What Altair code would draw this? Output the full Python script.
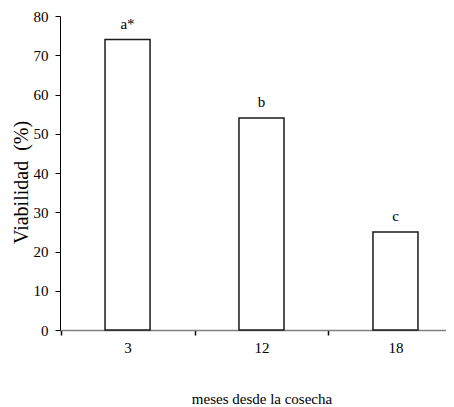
import altair as alt
import pandas as pd

months = ["3", "12", "18"]
viability = [74, 54, 25]
letters = ["a*", "b", "c"]

df = pd.DataFrame({"mes": months, "viab": viability, "letra": letters})

FONT = "Liberation Serif"

xscale = alt.Scale(type="band", domain=months, range=[0, 403],
                   paddingInner=0.664, paddingOuter=0.336)
yscale = alt.Scale(domain=[0, 80], nice=False)

xaxis = alt.Axis(title="meses desde la cosecha", labelAngle=0,
                 domainColor="#808080", domainWidth=1.5,
                 ticks=True, tickColor="black",
                 tickSize=5, tickWidth=1.5, tickOffset=-67, labelOffset=67,
                 labelPadding=5, labelBaseline="top",
                 titleX=201.5, titleY=73, titleAlign="center",
                 titleBaseline="alphabetic", titleFontWeight="normal",
                 titleFontSize=15, labelFontSize=15)
yaxis = alt.Axis(title="Viabilidad\u00a0\u00a0(%)", values=[0, 10, 20, 30, 40, 50, 60, 70, 80],
                 tickCount=9, grid=False, domainColor="black", domainWidth=1,
                 tickColor="black", tickSize=5, tickWidth=1,
                 labelPadding=7, labelFontSize=15, labelOverlap=False,
                 titleFontSize=20, titleFontWeight="normal",
                 titleAngle=270, titleX=-33, titleY=166,
                 titleAlign="center", titleBaseline="alphabetic")

bars = alt.Chart(df).mark_bar(fill="white", stroke="#1a1a1a", strokeWidth=1.5).encode(
    x=alt.X("mes:N", scale=xscale, sort=months, axis=xaxis),
    y=alt.Y("viab:Q", scale=yscale, axis=yaxis),
)

text = alt.Chart(df).mark_text(fontSize=15, baseline="alphabetic", dy=-11, color="black",
                               font=FONT).encode(
    x=alt.X("mes:N", scale=xscale, sort=months, axis=xaxis),
    y=alt.Y("viab:Q", scale=yscale, axis=yaxis),
    text="letra:N",
)

chart = (bars + text).properties(
    width=386, height=314,
    autosize=alt.AutoSizeParams(type="none"),
    padding={"left": 52, "top": 8, "right": 0, "bottom": 77},
).configure(font=FONT).configure_view(stroke=None).configure_axis(
    labelColor="black", titleColor="black", labelFont=FONT, titleFont=FONT)

chart.save("out.html", embed_options={"renderer": "svg", "actions": False})
